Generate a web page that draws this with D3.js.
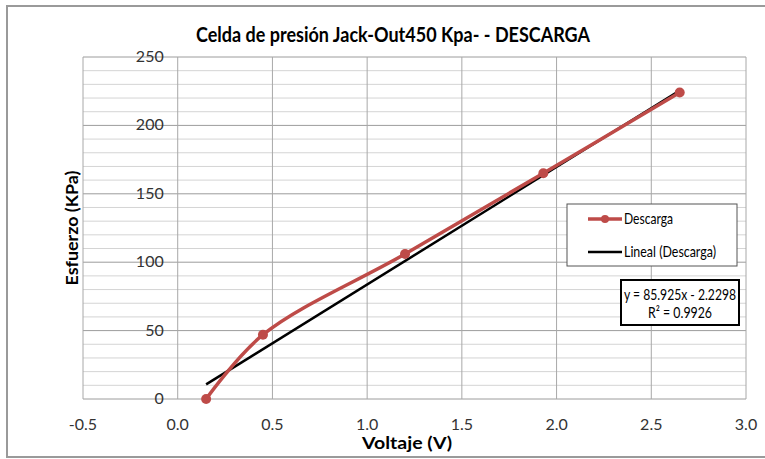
<!DOCTYPE html>
<html>
<head>
<meta charset="utf-8">
<script src="https://cdnjs.cloudflare.com/ajax/libs/d3/7.8.5/d3.min.js"></script>
<style>
  body { margin: 0; background: #fff; }
  text { font-family: Lato, "Open Sans", sans-serif; }
</style>
</head>
<body>
<div id="chart"></div>
<script>
// data
var voltaje = [0.15, 0.45, 1.2, 1.93, 2.65];
var esfuerzo = [0, 47, 106, 165, 224];
var xTicks = [-0.5, 0.0, 0.5, 1.0, 1.5, 2.0, 2.5, 3.0];
var yTicks = [0, 50, 100, 150, 200, 250];
var yMinor = d3.range(0, 251, 10);
var slope = 85.925, intercept = -2.2298, r2 = 0.9926;

var width = 765, height = 459;
var margin = {left: 83, right: 18, top: 57, bottom: 60};

var svg = d3.select("#chart").append("svg")
  .attr("width", width)
  .attr("height", height);

// outer chart border
svg.append("rect")
  .attr("x", 7).attr("y", 6)
  .attr("width", 800).attr("height", 451)
  .style("fill", "#fff")
  .style("stroke", "#9a9a9a")
  .style("stroke-width", 2);

var x = d3.scaleLinear().domain([-0.5, 3.0]).range([margin.left, width - margin.right - 1]);
var y = d3.scaleLinear().domain([0, 250]).range([height - margin.bottom, margin.top]);

// minor horizontal grid
svg.selectAll(".minor")
  .data(yMinor.filter(function(d) { return d % 50 !== 0; }))
  .enter().append("line")
  .attr("x1", x(-0.5)).attr("x2", x(3.0))
  .attr("y1", function(d) { return y(d); })
  .attr("y2", function(d) { return y(d); })
  .style("stroke", "#d4d4d4").style("stroke-width", 1);

// major grid
svg.selectAll(".hmajor")
  .data(yTicks)
  .enter().append("line")
  .attr("x1", x(-0.5)).attr("x2", x(3.0))
  .attr("y1", function(d) { return y(d); })
  .attr("y2", function(d) { return y(d); })
  .style("stroke", "#9c9c9c").style("stroke-width", 1);

svg.selectAll(".vmajor")
  .data(xTicks)
  .enter().append("line")
  .attr("x1", function(d) { return x(d); })
  .attr("x2", function(d) { return x(d); })
  .attr("y1", y(0)).attr("y2", y(250))
  .style("stroke", "#a8a8a8").style("stroke-width", 1);

// axis labels
svg.selectAll(".xlab")
  .data(xTicks)
  .enter().append("text")
  .attr("x", function(d) { return x(d); })
  .attr("y", y(0) + 31)
  .attr("text-anchor", "middle")
  .style("font-size", "16px")
  .style("fill", "#333")
  .text(function(d) { return d.toFixed(1); });

svg.selectAll(".ylab")
  .data(yTicks)
  .enter().append("text")
  .attr("x", x(0) - 14)
  .attr("y", function(d) { return y(d) + 5; })
  .attr("text-anchor", "end")
  .style("font-size", "16px")
  .style("fill", "#333")
  .text(function(d) { return d; });

// trendline
svg.append("line")
  .attr("x1", x(d3.min(voltaje))).attr("y1", y(slope * d3.min(voltaje) + intercept))
  .attr("x2", x(d3.max(voltaje))).attr("y2", y(slope * d3.max(voltaje) + intercept))
  .style("stroke", "#000").style("stroke-width", 2.5);

// smoothed data series
var pts = voltaje.map(function(v, i) { return [v, esfuerzo[i]]; });
var line = d3.line()
  .x(function(d) { return x(d[0]); })
  .y(function(d) { return y(d[1]); })
  .curve(d3.curveCatmullRom.alpha(0.5));

svg.append("path")
  .attr("d", line(pts))
  .style("fill", "none")
  .style("stroke", "#be4b48")
  .style("stroke-width", 3.5);

svg.selectAll(".pt")
  .data(pts)
  .enter().append("circle")
  .attr("cx", function(d) { return x(d[0]); })
  .attr("cy", function(d) { return y(d[1]); })
  .attr("r", 5)
  .style("fill", "#be4b48");

// title
svg.append("text")
  .attr("x", 393).attr("y", 42)
  .attr("text-anchor", "middle")
  .attr("textLength", 394)
  .attr("lengthAdjust", "spacingAndGlyphs")
  .style("font-size", "20px")
  .style("font-weight", "bold")
  .text("Celda de presión Jack-Out450 Kpa- - DESCARGA");

svg.append("text")
  .attr("x", 407).attr("y", 449)
  .attr("text-anchor", "middle")
  .attr("textLength", 90)
  .attr("lengthAdjust", "spacingAndGlyphs")
  .style("font-size", "17px")
  .style("font-weight", "bold")
  .text("Voltaje (V)");

svg.append("text")
  .attr("transform", "translate(78," + ((y(0) + y(250)) / 2) + ") rotate(-90)")
  .attr("text-anchor", "middle")
  .attr("textLength", 115)
  .attr("lengthAdjust", "spacingAndGlyphs")
  .style("font-size", "17px")
  .style("font-weight", "bold")
  .text("Esfuerzo (KPa)");

// legend
var legend = svg.append("g").attr("transform", "translate(567,204)");
legend.append("rect")
  .attr("width", 170).attr("height", 62)
  .style("fill", "#fff").style("stroke", "#555").style("stroke-width", 1);

legend.append("line")
  .attr("x1", 21).attr("x2", 55).attr("y1", 15).attr("y2", 15)
  .style("stroke", "#be4b48").style("stroke-width", 3.5);
legend.append("circle")
  .attr("cx", 38).attr("cy", 15).attr("r", 4)
  .style("fill", "#be4b48");
legend.append("text")
  .attr("x", 57).attr("y", 20)
  .attr("textLength", 49)
  .attr("lengthAdjust", "spacingAndGlyphs")
  .style("font-size", "15px")
  .text("Descarga");

legend.append("line")
  .attr("x1", 21).attr("x2", 55).attr("y1", 48).attr("y2", 48)
  .style("stroke", "#000").style("stroke-width", 2.5);
legend.append("text")
  .attr("x", 57).attr("y", 53)
  .attr("textLength", 92)
  .attr("lengthAdjust", "spacingAndGlyphs")
  .style("font-size", "15px")
  .text("Lineal (Descarga)");

// equation box
var eq = svg.append("g").attr("transform", "translate(621,280)");
eq.append("rect")
  .attr("width", 118).attr("height", 45)
  .style("fill", "#fff").style("stroke", "#000").style("stroke-width", 2);
eq.append("text")
  .attr("x", 59).attr("y", 20)
  .attr("text-anchor", "middle")
  .attr("textLength", 112)
  .attr("lengthAdjust", "spacingAndGlyphs")
  .style("font-size", "15px")
  .text("y = " + slope + "x - " + Math.abs(intercept));
eq.append("text")
  .attr("x", 59).attr("y", 38)
  .attr("text-anchor", "middle")
  .attr("textLength", 64)
  .attr("lengthAdjust", "spacingAndGlyphs")
  .style("font-size", "15px")
  .text("R² = " + r2);
</script>
</body>
</html>
